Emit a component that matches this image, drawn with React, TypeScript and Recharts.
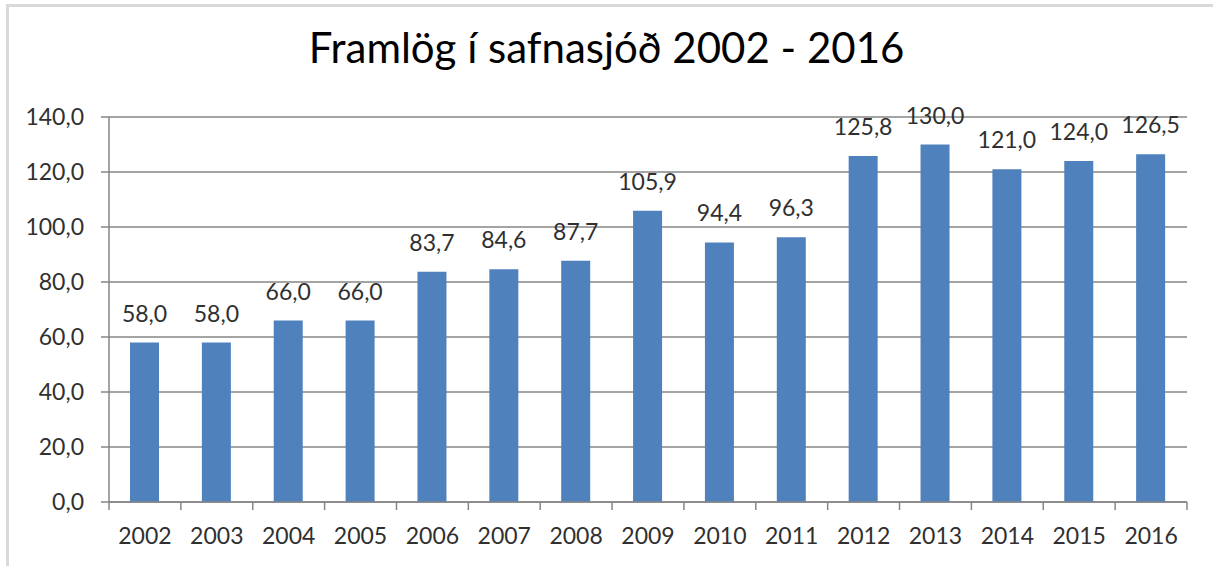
import React from 'react'
import { BarChart, Bar, XAxis, YAxis, CartesianGrid, LabelList } from 'recharts'

const years = ['2002', '2003', '2004', '2005', '2006', '2007', '2008', '2009', '2010', '2011', '2012', '2013', '2014', '2015', '2016']
const amounts = [58.0, 58.0, 66.0, 66.0, 83.7, 84.6, 87.7, 105.9, 94.4, 96.3, 125.8, 130.0, 121.0, 124.0, 126.5]
const yTicks = [0, 20, 40, 60, 80, 100, 120, 140]

const data = years.map((year, i) => ({ year, value: amounts[i] }))

const FONT = 'Lato, "Open Sans", sans-serif'
const AXIS = '#868686'
const TEXT = '#303030'
const W = 1213
const H = 566
const PLOT_LEFT = 109
const PLOT_RIGHT = 26

const fmt = (v: number) => v.toFixed(1).replace('.', ',')

// category ticks sit on the boundaries between bars, like Excel
function YearTick(props: any) {
  const { x, y, payload, index } = props
  const band = (W - PLOT_LEFT - PLOT_RIGHT) / years.length
  const left = x - band / 2
  const right = x + band / 2
  return (
    <g>
      <line x1={left} y1={y - 8} x2={left} y2={y} stroke={AXIS} strokeWidth={1.5} />
      {index === years.length - 1 && (
        <line x1={right} y1={y - 8} x2={right} y2={y} stroke={AXIS} strokeWidth={1.5} />
      )}
      <text x={x} y={y + 34} textAnchor="middle" fill={TEXT} fontSize={23} fontFamily={FONT}>
        {payload.value}
      </text>
    </g>
  )
}

export default function App() {
  return (
    <div style={{ position: 'absolute', left: 0, top: 0, width: W, height: H, background: '#fff', overflow: 'hidden' }}>
      <div
        style={{
          position: 'absolute',
          left: 6,
          top: 4,
          width: W,
          height: H,
          borderTop: '3px solid #d9d9d9',
          borderLeft: '3px solid #d9d9d9',
        }}
      />
      <div
        style={{
          position: 'absolute',
          top: 22,
          left: 0,
          width: W,
          textAlign: 'center',
          fontFamily: FONT,
          fontSize: 42,
          color: '#000',
        }}
      >
        Framlög í safnasjóð 2002 - 2016
      </div>
      <BarChart
        width={W}
        height={H}
        data={data}
        margin={{ top: 117, right: PLOT_RIGHT, left: 0, bottom: 24 }}
        style={{ position: 'absolute', left: 0, top: 0 }}
      >
        <CartesianGrid vertical={false} stroke={AXIS} strokeWidth={1.5} />
        <XAxis
          dataKey="year"
          height={40}
          tickLine={false}
          axisLine={{ stroke: AXIS, strokeWidth: 1.5 }}
          tick={<YearTick />}
          interval={0}
        />
        <YAxis
          width={PLOT_LEFT}
          domain={[0, 140]}
          ticks={yTicks}
          tickFormatter={fmt}
          tickSize={8}
          tickMargin={17}
          axisLine={{ stroke: AXIS, strokeWidth: 1.5 }}
          tickLine={{ stroke: AXIS, strokeWidth: 1.5 }}
          tick={{ fill: TEXT, fontSize: 23, fontFamily: FONT }}
        />
        <Bar dataKey="value" fill="#4f81bd" barSize={29} isAnimationActive={false}>
          <LabelList
            dataKey="value"
            position="top"
            offset={21}
            formatter={(v: any) => fmt(Number(v))}
            style={{ fill: TEXT, fontSize: 23, fontFamily: FONT }}
          />
        </Bar>
      </BarChart>
    </div>
  )
}
